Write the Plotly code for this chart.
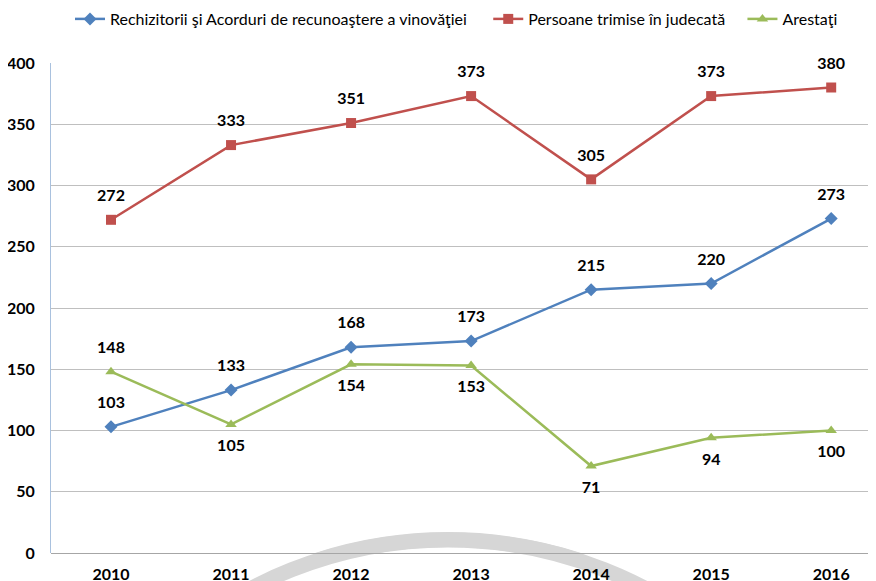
import plotly.graph_objects as go

years = ["2010", "2011", "2012", "2013", "2014", "2015", "2016"]
rechizitorii = [103, 133, 168, 173, 215, 220, 273]
persoane = [272, 333, 351, 373, 305, 373, 380]
arestati = [148, 105, 154, 153, 71, 94, 100]
arest_pos = ["top center", "bottom center", "bottom center", "bottom center",
             "bottom center", "bottom center", "bottom center"]

FONT = "Lato, sans-serif"
LBL = dict(family=FONT, size=16, color="#000000", weight="bold")
NB = "\u00a0"
xs = list(range(len(years)))

fig = go.Figure()
series = [
    ("Rechizitorii şi Acorduri de recunoaştere a vinovăţiei" + NB * 4, rechizitorii,
     "#4F81BD", "diamond", "top center"),
    ("Persoane trimise în judecată" + NB * 3, persoane, "#C0504D", "square", "top center"),
    ("Arestaţi", arestati, "#9BBB59", "triangle-up", arest_pos),
]
for name, vals, col, sym, pos in series:
    fig.add_trace(go.Scatter(
        x=xs, y=vals, mode="lines+markers", name=name,
        line=dict(color=col, width=2.5),
        marker=dict(symbol=sym, size=10, color=col),
        hoverinfo="x+y",
    ))
for name, vals, col, sym, pos in series:
    fig.add_trace(go.Scatter(
        x=xs, y=vals, mode="markers+text", showlegend=False,
        marker=dict(size=22, opacity=0),
        text=[str(v) for v in vals], textposition=pos,
        textfont=LBL, cliponaxis=False, hoverinfo="skip",
    ))

# faint watermark ring at the bottom of the chart (decoration)
RING = dict(color="#D6D6D6", width=15)
fig.add_shape(type="circle", xref="paper", yref="paper", layer="below",
              x0=(440 - 425 - 43) / 833, x1=(440 + 425 - 43) / 833,
              y0=(545 - 532) / 490, y1=(545 - 1382) / 490,
              line=RING, fillcolor="rgba(0,0,0,0)")
fig.add_shape(type="circle", xref="x", yref="y", layer="below",
              x0=2.808 - 425 / 120, x1=2.808 + 425 / 120,
              y0=-336 - 425 / 1.225, y1=-336 + 425 / 1.225,
              line=RING, fillcolor="rgba(0,0,0,0)")

fig.update_layout(
    width=876, height=581,
    margin=dict(l=43, r=0, t=55, b=36, autoexpand=False),
    paper_bgcolor="white", plot_bgcolor="rgba(0,0,0,0)",
    font=dict(family=FONT, size=16, color="#000000"),
    showlegend=True,
    legend=dict(orientation="h", x=0.0228, xanchor="left", y=1.1245, yanchor="top",
                font=dict(family=FONT, size=16), itemwidth=30, tracegroupgap=0,
                bgcolor="rgba(0,0,0,0)"),
)
fig.update_xaxes(
    range=[-0.5, 6.44], tickmode="array", tickvals=xs,
    ticktext=years, showgrid=False, zeroline=False, automargin=False,
    showline=False, tickfont=dict(family=FONT, size=16, weight="bold"),
    ticks="", ticklabelstandoff=10,
)
fig.update_yaxes(
    range=[0, 400], dtick=50, showgrid=True, gridcolor="#BFBFBF", gridwidth=1,
    zeroline=True, zerolinecolor="#A6A6A6", zerolinewidth=1, automargin=False,
    showline=True, linecolor="#A9C1DE", linewidth=1,
    tickfont=dict(family=FONT, size=16, weight="bold"), ticks="",
    ticklabelstandoff=12,
)
fig.write_html("out.html")
